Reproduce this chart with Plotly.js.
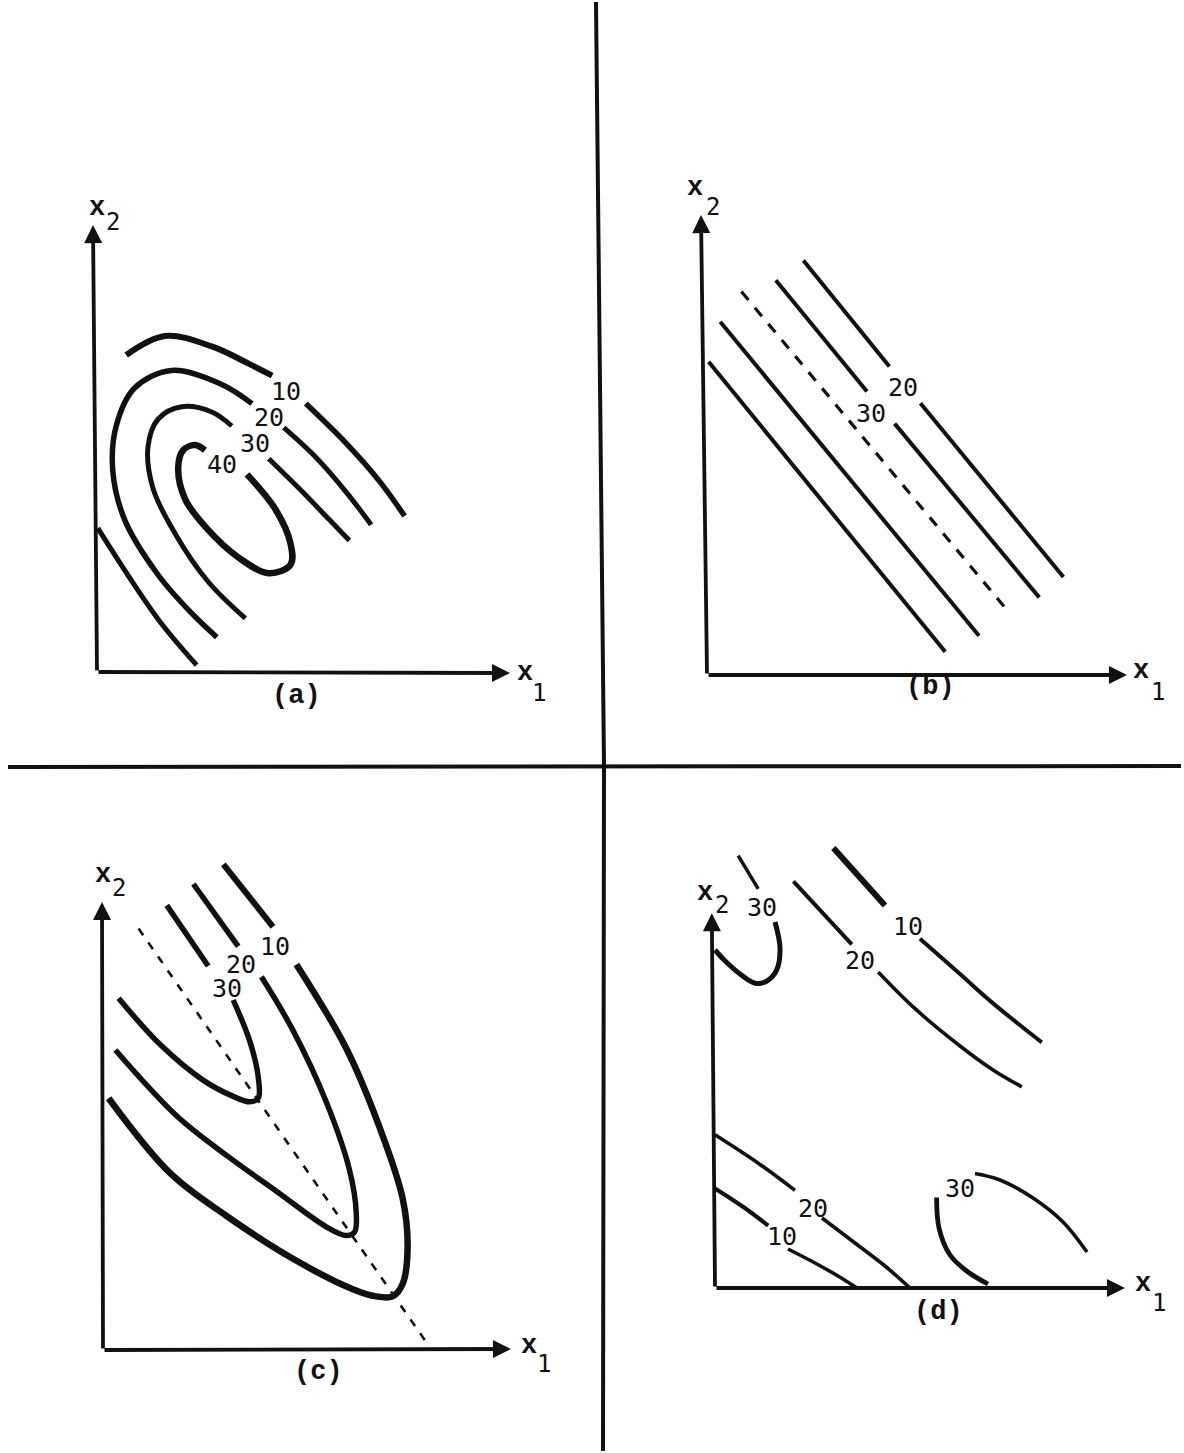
<!DOCTYPE html>
<html>
<head>
<meta charset="utf-8">
<script src="https://cdn.plot.ly/plotly-3.0.1.min.js"></script>
<style>html,body{margin:0;padding:0;background:#fff}</style>
</head>
<body>
<div id="chart" style="width:1184px;height:1453px"></div>
<script>
// Four sketches of response-surface contours in the (x1, x2) plane.
// Every curve is a list of [x1, x2] points in the panel's own units.

// ---------- (a) elliptical contours with a maximum ----------
const aLevelText = ['10', '20', '30', '40'];
const aLevelPos  = [[47.15, 70.2], [42.95, 63.6], [39.6, 57.2], [31.2, 52.0]];
const a10Top    = [[7.3,79.25],[16.95,84],[28.7,81.4],[37.9,77.1],[43.8,74.1]];
const a10Tail   = [[52.2,67.1],[62.25,57.2],[70.65,47.65],[76.9,39]];
const a10Corner = [[0.2,35.95],[7.7,24.25],[16.1,12.1],[24.9,1.7]];
const a20Arc    = [[29.95,8.7],[23.65,14.7],[15.3,24.25],[6.9,38.1],[3.95,50.25],[4.8,61.5],[9.4,71],[18.6,75.4],[31.2,71.9],[38.75,67.1]];
const a20Tail   = [[46.7,61.1],[54.7,53.7],[62.25,45.05],[68.55,36.8]];
const a30Arc    = [[37.1,13.4],[27.85,22.5],[19.5,34.65],[14,45.9],[12.75,56.3],[15.3,63.25],[21.15,66.3],[28.7,65],[33.7,61.5]];
const a30Tail   = [[42.95,53.3],[51.35,45.05],[58.05,38.1],[63.1,32.9]];
const a40Loop   = [[37.5,49.4],[44.6,40.7],[48.4,32.05],[48.4,26.85],[42.95,24.7],[35.4,28.6],[27,36.4],[22,43.3],[20.3,51.1],[21.55,55.45],[24.5,56.75],[27,55.45]];

// ---------- (b) stationary ridge ----------
const bLevelText = ['20', '30'];
const bLevelPos  = [[49.05, 72.0], [41.1, 65.5]];
const b20RightTop = [[24.1,103.6],[45.6,77.1]];
const b20RightLow = [[53.35,67.95],[89.1,24.5]];
const b30RightTop = [[17.2,98.7],[40,70.9]];
const b30RightLow = [[46.9,62.85],[83.05,19.4]];
const bRidgeLine  = [[8.6,95.85],[75.55,15.6]];
const b30Left     = [[3.3,88.3],[68,9.8]];
const b20Left     = [[0.4,78.3],[59.55,5.8]];

// ---------- (c) rising ridge ----------
const cLevelText = ['10', '20', '30'];
const cLevelPos  = [[42.95, 100.9], [34.6, 96.3], [30.9, 90.3]];
const c10Top  = [[30.1,121.4],[42.5,105.8]];
const c10U    = [[48.35,96.4],[60.8,75.45],[69.1,55.8],[74.9,37.95],[76.15,25.45],[74.9,16.5],[72.4,13.4],[68.3,13.4],[62.45,15.2],[47.5,22.8],[30.9,33.5],[16.8,44.2],[1.4,62.95]];
const c20Top  = [[22.6,116.5],[33.8,100.9]];
const c20U    = [[39.6,93.3],[47.5,79.9],[55.8,62.05],[61.6,45.1],[63.3,34.4],[62.9,29.5],[60.8,28.6],[55.8,30.8],[43.35,39.7],[30.9,48.65],[18.45,58.5],[3.1,75]];
const c30Top  = [[15.95,111.15],[26.3,96]];
const c30U    = [[32.55,87.5],[36.7,77.2],[38.8,68.3],[38.8,62.95],[36.7,62.05],[32.55,63.4],[25.1,67.4],[14.3,76.35],[3.9,87.95]];
const cRidgeLine = [[8.9,105.35],[81.55,0.9]];

// ---------- (d) saddle ----------
const dLevelText = ['30', '20', '10', '20', '10', '30'];
const dLevelPos  = [[11.7,95.2],[36.25,81.8],[48.3,90.5],[24.6,19.8],[16.7,12.9],[61.25,24.9]];
const d30CornerTop = [[5.8,108.1],[10.8,99.8]];
const d30CornerLow = [[15,91.5],[16.25,85],[15.4,79.45],[12.9,76.7],[10,76.2],[6.25,78.5],[2.5,81.8],[0,84.5]];
const d20UpTop  = [[19.6,101.65],[34.2,85.9]];
const d20UpLow  = [[40.8,79],[49.6,70.2],[61.25,60.5],[69.6,54.45],[76.7,50.3]];
const d10UpTop  = [[29.6,110],[42.5,95.65]];
const d10UpLow  = [[51.25,87.3],[61.25,78.5],[69.6,71.1],[81.7,61.4]];
const d20DownTop = [[0,38.3],[11.25,30.9],[20,24.4]];
const d20DownLow = [[26.75,17.5],[35,11.25],[42.5,5.5],[48.75,0]];
const d10DownTop = [[0,24.9],[7.1,20.25],[13.3,15.6]];
const d10DownLow = [[18.25,9.75],[25,6.25],[30.75,3],[35.5,0]];
const d30SideLeft  = [[55.4,22.6],[56,15],[58.75,8.25],[63.25,4],[68.25,1]];
const d30SideRight = [[65,28.6],[71.25,27],[79.5,22.5],[87,16.5],[93,9]];

// ---------- page geometry ----------
const W = 1184, H = 1453;
const PX = 4; // pixels per unit on every panel
const panels = [
  {tag:'(a)', ox:97,  oy:672,  box:[0,596,0,766],      yTip:[-1,111.75],  xTip:[103.25,-0.25],
   xLab:[0,116],    x2Sub:[4,112.5],    x1Lab:[107,-0.25], x1Sub:[110.5,-5.25], tagPos:[49.75,-6]},
  {tag:'(b)', ox:707, oy:675,  box:[604,1184,0,766],   yTip:[-1.5,115],   xTip:[105,0],
   xLab:[-3,121.75], x2Sub:[1.5,117],   x1Lab:[108.4,1.1], x1Sub:[112.7,-4.2], tagPos:[55.75,-3]},
  {tag:'(c)', ox:103, oy:1350, box:[0,600,770,1453],   yTip:[-0.25,112],  xTip:[102,0.25],
   xLab:[0,118.75], x2Sub:[4,115.5],    x1Lab:[106.5,1.0], x1Sub:[110.2,-3.5], tagPos:[53.75,-5.6]},
  {tag:'(d)', ox:715, oy:1288, box:[606,1184,770,1453],yTip:[-0.8,93.7], xTip:[102.5,0],
   xLab:[-2.5,98.7], x2Sub:[1.7,95.75], x1Lab:[107,1.0], x1Sub:[111,-3.7], tagPos:[55.75,-6]}
];

const INK = '#111';
const traces = [];
const annotations = [];
const layout = {
  width: W, height: H,
  margin: {l:0, r:0, t:0, b:0},
  paper_bgcolor: '#fff', plot_bgcolor: 'rgba(0,0,0,0)',
  showlegend: false,
  annotations: annotations,
  shapes: [
    // frame lines separating the four sketches
    {type:'path', xref:'paper', yref:'paper',
     path: `M ${596/W},${1-2/H} L ${604/W},${1-766/H} L ${603/W},${1-1451/H}`,
     line:{color:INK, width:4}},
    {type:'line', xref:'paper', yref:'paper', x0:8/W, x1:1181/W, y0:1-767/H, y1:1-766/H,
     line:{color:INK, width:4}}
  ]
};

panels.forEach((p, i) => {
  const n = i === 0 ? '' : String(i + 1);
  const [L, R, T, B] = p.box;
  layout['xaxis' + n] = {domain:[L/W, R/W], range:[(L-p.ox)/PX, (R-p.ox)/PX], visible:false, fixedrange:true, anchor:'y'+n};
  layout['yaxis' + n] = {domain:[1-B/H, 1-T/H], range:[(p.oy-B)/PX, (p.oy-T)/PX], visible:false, fixedrange:true, anchor:'x'+n};
  p.xref = 'x' + n; p.yref = 'y' + n;
  // axis arrows from the origin
  [p.xTip, p.yTip].forEach(tip => annotations.push({
    xref:p.xref, yref:p.yref, axref:p.xref, ayref:p.yref,
    x:tip[0], y:tip[1], ax:0, ay:0, text:'', showarrow:true,
    arrowhead:2, arrowsize:0.95, arrowwidth:3.8, arrowcolor:INK, standoff:0, startstandoff:0
  }));
  const txt = (pos, text, font) => annotations.push({
    xref:p.xref, yref:p.yref, x:pos[0], y:pos[1], text:text, showarrow:false,
    xanchor:'center', yanchor:'middle', font:font
  });
  const xFont = {family:'Liberation Mono, Courier New, monospace', size:27, color:INK, weight:'bold'};
  const subFont = {family:'DejaVu Sans Mono, monospace', size:24, color:INK};
  txt(p.xLab, 'x', xFont);
  txt(p.x2Sub, '2', subFont);
  txt(p.x1Lab, 'x', xFont);
  txt(p.x1Sub, '1', subFont);
  txt(p.tagPos, p.tag, {family:'Liberation Mono, Courier New, monospace', size:27, color:INK, weight:'bold'});
});

function curve(pts, panelIdx, width, dash, shape) {
  const p = panels[panelIdx];
  traces.push({
    type:'scatter', mode:'lines', xaxis:p.xref, yaxis:p.yref,
    x: pts.map(q => q[0]), y: pts.map(q => q[1]),
    line:{color:INK, width:width, dash:dash || 'solid', shape:shape || 'spline', smoothing:1},
    hoverinfo:'skip', showlegend:false
  });
}
function levelLabels(texts, positions, panelIdx) {
  const p = panels[panelIdx];
  texts.forEach((t, k) => annotations.push({
    xref:p.xref, yref:p.yref, x:positions[k][0], y:positions[k][1], text:t, showarrow:false,
    xanchor:'center', yanchor:'middle',
    font:{family:'DejaVu Sans Mono, monospace', size:25, color:INK}
  }));
}

// (a)
curve(a10Top, 0, 6);
curve(a10Tail, 0, 5.5);
curve(a10Corner, 0, 5);
curve(a20Arc, 0, 5.5);
curve(a20Tail, 0, 5);
curve(a30Arc, 0, 5);
curve(a30Tail, 0, 5);
curve(a40Loop, 0, 6.5);
levelLabels(aLevelText, aLevelPos, 0);

// (b)
[b20RightTop, b20RightLow, b30RightTop, b30RightLow, b30Left, b20Left].forEach(l => curve(l, 1, 4, 'solid', 'linear'));
curve(bRidgeLine, 1, 3.2, '11px,10px', 'linear');
levelLabels(bLevelText, bLevelPos, 1);

// (c)
curve(c10Top, 2, 6);
curve(c10U, 2, 6.5);
curve(c20Top, 2, 5.5);
curve(c20U, 2, 5.5);
curve(c30Top, 2, 5.5);
curve(c30U, 2, 5.5);
curve(cRidgeLine, 2, 2.6, '8px,9px', 'linear');
levelLabels(cLevelText, cLevelPos, 2);

// (d)
curve(d30CornerTop, 3, 3.5);
curve(d30CornerLow, 3, 5);
curve(d20UpTop, 3, 4);
curve(d20UpLow, 3, 3.6);
curve(d10UpTop, 3, 6);
curve(d10UpLow, 3, 4);
curve(d20DownTop, 3, 3.6);
curve(d20DownLow, 3, 3.6);
curve(d10DownTop, 3, 4.2);
curve(d10DownLow, 3, 3.6);
curve(d30SideLeft, 3, 4.8);
curve(d30SideRight, 3, 3.6);
levelLabels(dLevelText, dLevelPos, 3);

Plotly.newPlot('chart', traces, layout, {staticPlot:true, displayModeBar:false});
</script>
</body>
</html>
